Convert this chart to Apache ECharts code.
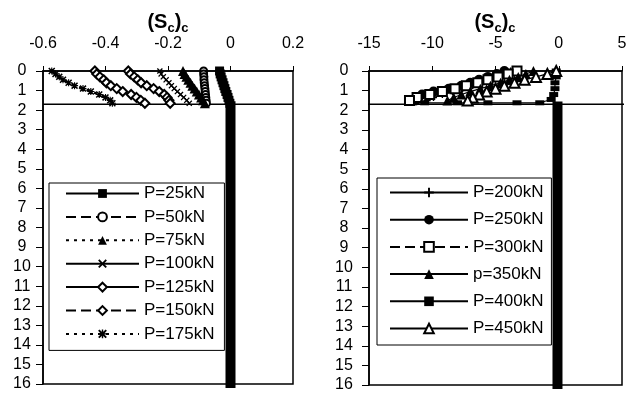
<!DOCTYPE html>
<html>
<head>
<meta charset="utf-8">
<script src="https://cdn.jsdelivr.net/npm/echarts@6/dist/echarts.min.js"></script>
<style>
html, body { margin: 0; padding: 0; background: #fff; }
#chart { width: 633px; height: 394px; }
</style>
</head>
<body>
<div id="chart"></div>
<script>
// depths (m) down the pile, shared by the curves
var depthLeft = [0, 0.15, 0.3, 0.45, 0.6, 0.75, 0.9, 1.05, 1.2, 1.35, 1.5, 1.65];
var depthRight = [0, 0.15, 0.3, 0.45, 0.6, 0.75, 0.9, 1.05, 1.2, 1.35, 1.5];

// left panel (Sc)c values
var p25  = [-0.035, -0.033, -0.030, -0.027, -0.024, -0.021, -0.018, -0.015, -0.011, -0.008, -0.005, -0.002];
var p50  = [-0.086, -0.086, -0.085, -0.085, -0.084, -0.083, -0.082, -0.081, -0.080, -0.079, -0.078, -0.077];
var p75  = [-0.152, -0.147, -0.141, -0.135, -0.128, -0.122, -0.115, -0.108, -0.101, -0.094, -0.088, -0.082];
var p100 = [-0.226, -0.222, -0.215, -0.206, -0.197, -0.189, -0.180, -0.170, -0.160, -0.150, -0.140, -0.132];
var p125 = [-0.327, -0.320, -0.308, -0.297, -0.286, -0.268, -0.246, -0.228, -0.212, -0.203, -0.197, -0.193];
var p150 = [-0.434, -0.428, -0.418, -0.406, -0.397, -0.383, -0.364, -0.345, -0.318, -0.301, -0.287, -0.274];
var p175 = [-0.572, -0.560, -0.548, -0.536, -0.518, -0.499, -0.472, -0.447, -0.420, -0.400, -0.385, -0.378];

// right panel (Sc)c values
var p200 = [-3.8, -4.3, -4.9, -5.5, -6.1, -6.8, -7.6, -8.4, -9.2, -9.9, -10.4];
var p250 = [-4.3, -4.9, -5.6, -6.3, -7.0, -7.7, -8.7, -9.9, -10.8, -11.1, -11.3];
var p300 = [-3.3, -4.0, -4.8, -5.6, -6.4, -7.3, -8.2, -9.2, -10.2, -11.2, -11.8];
var p350 = [-2.0, -2.6, -3.2, -3.9, -4.6, -5.4, -6.2, -7.0, -7.7, -8.3, -8.8];
var p450 = [-0.2, -0.9, -1.8, -2.7, -3.5, -4.3, -5.0, -5.7, -6.3, -6.8, -7.2];
var depthP400 = [0, 0.3, 0.6, 0.9, 1.2, 1.45, 1.62, 1.62, 1.62, 1.62, 1.62];
var p400 = [-0.2, -0.2, -0.3, -0.3, -0.4, -0.6, -1.5, -3.3, -5.6, -8.0, -10.6];

// pile shaft and ground level
var pileDepth = [1.55, 16.2];
var pileLeft = [0.0, 0.0];
var pileRight = [-0.1, -0.1];
var groundDepth = 1.7;
var groundLeft = [-0.6, 0.2];
var groundRight = [-15.55, 5.5];

var yTicks = ['0','1','2','3','4','5','6','7','8','9','10','11','12','13','14','15','16'];

var FONT = 'Liberation Sans, Arial, sans-serif';
var xMark = 'path://M0,1.5L1.5,0L5,3.5L8.5,0L10,1.5L6.5,5L10,8.5L8.5,10L5,6.5L1.5,10L0,8.5L3.5,5Z';
var plusMark = 'path://M4,0H6V4H10V6H6V10H4V6H0V4H4Z';
var starMark = 'path://M4.2,0H5.8V4.2H10V5.8H5.8V10H4.2V5.8H0V4.2H4.2Z M0,1.5L1.5,0L5,3.5L8.5,0L10,1.5L6.5,5L10,8.5L8.5,10L5,6.5L1.5,10L0,8.5L3.5,5Z';

var solid = { color: '#000', width: 1.2, type: 'solid' };
var dashed = { color: '#000', width: 2, type: [10, 5] };
var dotted = { color: '#000', width: 2.5, type: [3, 5] };

function pairs(xs, ys) {
  return xs.map(function (v, i) { return [v, ys[i]]; });
}

function curve(name, idx, vals, depths, symbol, size, line) {
  return {
    type: 'line', name: name, xAxisIndex: idx, yAxisIndex: idx,
    data: pairs(vals, depths),
    symbol: symbol, symbolSize: size, clip: false,
    lineStyle: line,
    itemStyle: { color: '#000' },
    z: 4, animation: false
  };
}

function plain(idx, xs, ys, width) {
  return {
    type: 'line', xAxisIndex: idx, yAxisIndex: idx,
    data: pairs(xs, ys), symbol: 'none', clip: false, silent: true,
    lineStyle: { color: '#000', width: width }, z: 3, animation: false
  };
}

function xAxis(idx, min, max, step) {
  return {
    type: 'value', gridIndex: idx, position: 'top', min: min, max: max, interval: step,
    axisLine: { onZero: false, lineStyle: { color: '#000', width: 1.5 } },
    axisTick: { length: 5, lineStyle: { color: '#000' } },
    axisLabel: { color: '#000', fontSize: 16, fontFamily: FONT, margin: 19 },
    splitLine: { show: false }
  };
}

function yAxis(idx, margin) {
  return {
    type: 'value', gridIndex: idx, inverse: true, min: 0, max: 16, interval: 1,
    axisLine: { onZero: false, lineStyle: { color: '#000', width: 1.5 } },
    axisTick: { length: 7, lineStyle: { color: '#000' } },
    axisLabel: { color: '#000', fontSize: 16, fontFamily: FONT, margin: margin, align: 'center',
      formatter: function (v) { return yTicks[v]; } },
    splitLine: { show: false }
  };
}

function title(x) {
  return {
    type: 'text', x: x, y: 12,
    style: {
      text: '{a|(S}{b|c}{a|)}{b|c}', align: 'center', verticalAlign: 'top',
      rich: {
        a: { fontSize: 20, fontWeight: 'bold', fontFamily: FONT, verticalAlign: 'bottom', padding: [0, 0, 3, 0], fill: '#000' },
        b: { fontSize: 13, fontWeight: 'bold', fontFamily: FONT, verticalAlign: 'bottom', fill: '#000' }
      }
    }
  };
}

var chart = echarts.init(document.getElementById('chart'));
chart.setOption({
  backgroundColor: '#fff',
  animation: false,
  textStyle: { fontFamily: FONT },
  graphic: [title(168), title(495)],
  grid: [
    { left: 43, right: 340, top: 71, bottom: 10, show: true, borderColor: '#000', borderWidth: 1.5 },
    { left: 369, right: 11, top: 71, bottom: 9, show: true, borderColor: '#000', borderWidth: 1.5 }
  ],
  xAxis: [xAxis(0, -0.6, 0.2, 0.2), xAxis(1, -15, 5, 5)],
  yAxis: [yAxis(0, 21), yAxis(1, 25)],
  legend: [
    {
      orient: 'vertical', left: 49, top: 183, padding: [2, 10, 8, 16],
      itemWidth: 73, itemHeight: 11, itemGap: 6.4,
      borderColor: '#000', borderWidth: 1, selectedMode: false,
      textStyle: { fontSize: 17, color: '#000', fontFamily: FONT },
      data: ['P=25kN', 'P=50kN', 'P=75kN', 'P=100kN', 'P=125kN', 'P=150kN', 'P=175kN']
    },
    {
      orient: 'vertical', left: 377, top: 178, padding: [6, 8, 8, 12],
      itemWidth: 78, itemHeight: 12, itemGap: 10.2,
      borderColor: '#000', borderWidth: 1, selectedMode: false,
      textStyle: { fontSize: 17, color: '#000', fontFamily: FONT },
      data: ['P=200kN', 'P=250kN', 'P=300kN', 'p=350kN', 'P=400kN', 'P=450kN']
    }
  ],
  series: [
    plain(0, groundLeft, [groundDepth, groundDepth], 1.5),
    plain(0, pileLeft, pileDepth, 10),
    curve('P=25kN', 0, p25, depthLeft, 'rect', 9, solid),
    curve('P=50kN', 0, p50, depthLeft, 'emptyCircle', 7, dashed),
    curve('P=75kN', 0, p75, depthLeft, 'triangle', 10, dotted),
    curve('P=100kN', 0, p100, depthLeft, xMark, 6, solid),
    curve('P=125kN', 0, p125, depthLeft, 'emptyDiamond', 9, solid),
    curve('P=150kN', 0, p150, depthLeft, 'emptyDiamond', 9, dashed),
    curve('P=175kN', 0, p175, depthLeft, starMark, 7, dotted),

    plain(1, groundRight, [groundDepth, groundDepth], 1.5),
    plain(1, pileRight, pileDepth, 10),
    curve('P=200kN', 1, p200, depthRight, plusMark, 7, solid),
    curve('P=250kN', 1, p250, depthRight, 'circle', 10, solid),
    curve('P=300kN', 1, p300, depthRight, 'emptyRect', 9, dashed),
    curve('p=350kN', 1, p350, depthRight, 'triangle', 10, solid),
    curve('P=400kN', 1, p400, depthP400, 'rect', [9, 5], solid),
    curve('P=450kN', 1, p450, depthRight, 'emptyTriangle', 10, solid)
  ]
});
</script>
</body>
</html>
